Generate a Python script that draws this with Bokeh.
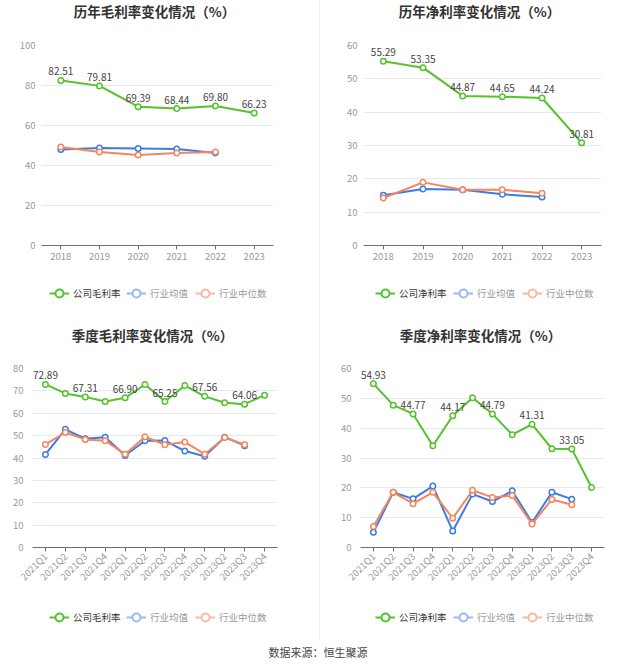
import math
from bokeh.plotting import figure
from bokeh.models import FactorRange, Range1d, Legend, LegendItem, ColumnDataSource, Div
from bokeh.layouts import row, column
from bokeh.embed import file_html
from bokeh.resources import INLINE
from bokeh.core.properties import value

# ---------------- data ----------------
years = ["2018", "2019", "2020", "2021", "2022", "2023"]
quarters = ["2021Q1", "2021Q2", "2021Q3", "2021Q4",
            "2022Q1", "2022Q2", "2022Q3", "2022Q4",
            "2023Q1", "2023Q2", "2023Q3", "2023Q4"]

annual_gross_company = [82.51, 79.81, 69.39, 68.44, 69.80, 66.23]
annual_gross_avg = [48.0, 48.8, 48.5, 48.2, 46.3]
annual_gross_median = [49.2, 46.8, 45.2, 46.2, 46.8]

annual_net_company = [55.29, 53.35, 44.87, 44.65, 44.24, 30.81]
annual_net_avg = [15.05, 16.95, 16.75, 15.35, 14.55]
annual_net_median = [14.25, 18.94, 16.75, 16.75, 15.65]

q_gross_company = [72.89, 68.85, 67.31, 65.27, 66.90, 72.85, 65.25, 72.40, 67.56, 64.70, 64.06, 68.10]
q_gross_avg = [41.6, 52.8, 48.6, 49.3, 41.1, 47.7, 47.8, 43.1, 40.8, 49.3, 45.5]
q_gross_median = [46.05, 51.4, 48.3, 47.7, 41.7, 49.5, 45.9, 47.1, 41.7, 49.2, 45.9]

q_net_company = [54.93, 47.7, 44.77, 34.1, 44.17, 50.2, 44.79, 37.8, 41.31, 33.1, 33.05, 20.1]
q_net_avg = [5.1, 18.5, 16.3, 20.6, 5.5, 17.9, 15.4, 19.0, 8.4, 18.5, 16.2]
q_net_median = [7.0, 18.5, 14.7, 18.5, 9.8, 19.2, 16.8, 17.4, 7.9, 16.1, 14.3]

titles = ["历年毛利率变化情况（%）", "历年净利率变化情况（%）",
          "季度毛利率变化情况（%）", "季度净利率变化情况（%）"]
company_names = ["公司毛利率", "公司净利率", "公司毛利率", "公司净利率"]
avg_name = "行业均值"
median_name = "行业中位数"
source_text = "数据来源：恒生聚源"

# ---------------- style ----------------
GREEN = "#55c22c"
BLUE = "#3d7be6"
ORANGE = "#f5855b"
BLUE_L = "#9db8f2"
ORANGE_L = "#f8b9a3"
CJK = "Noto Sans CJK SC"


def bare_fig(width, height, mbl, mbr):
    fw = width - mbl - mbr
    p = figure(width=width, height=height, x_range=Range1d(0, fw),
               y_range=Range1d(0, height), output_backend="svg",
               toolbar_location=None, x_axis_location=None, y_axis_location=None,
               min_border_left=mbl, min_border_right=mbr,
               min_border_top=0, min_border_bottom=0)
    p.outline_line_color = None
    p.grid.visible = False
    p.background_fill_color = "white"
    p.border_fill_color = "white"
    return p, fw


def header_fig(title, width, height, mbl, mbr, cx_abs, cy):
    p, fw = bare_fig(width, height, mbl, mbr)
    p.text(x=[cx_abs - mbl], y=[height - cy], text=[title], text_align="center",
           text_baseline="middle", text_font=value(CJK), text_font_size="13.5px",
           text_font_style="bold", text_color="#333333")
    return p


def legend_fig(cname, width, height, mbl, mbr, x1_abs, x2_abs, ybot):
    p, fw = bare_fig(width, height, mbl, mbr)

    def dummy(col):
        # legend-only renderer: points far outside the visible ranges
        s = ColumnDataSource(dict(x=[-1000, -999], y=[-1000, -1000]))
        a = p.line("x", "y", source=s, line_color=col, line_width=2)
        b = p.scatter("x", "y", source=s, marker="circle", fill_color="white",
                      line_color=col, line_width=2)
        return [a, b]

    common = dict(orientation="horizontal", padding=0, margin=0, spacing=7,
                  glyph_width=20, glyph_height=20, label_standoff=4,
                  label_text_font=CJK, label_text_font_size="9.5px",
                  border_line_color=None, background_fill_alpha=0)
    leg1 = Legend(items=[LegendItem(label=cname, renderers=dummy(GREEN))],
                  location=(x1_abs - mbl, ybot), label_text_color="#333333", **common)
    leg2 = Legend(items=[LegendItem(label=avg_name, renderers=dummy(BLUE_L)),
                         LegendItem(label=median_name, renderers=dummy(ORANGE_L))],
                  location=(x2_abs - mbl, ybot), label_text_color="#999999", **common)
    p.add_layout(leg1)
    p.add_layout(leg2)
    return p


def chart_fig(cats, company, avg, median, ymax, ystep, label_every,
              width, height, mbl, mbr, mbt, mbb, rotate, pad):
    p = figure(x_range=FactorRange(factors=cats, range_padding=pad,
                                   range_padding_units="absolute"),
               y_range=Range1d(0, ymax), width=width, height=height,
               output_backend="svg", toolbar_location=None,
               min_border_left=mbl, min_border_right=mbr,
               min_border_top=mbt, min_border_bottom=mbb)
    p.outline_line_color = None
    p.background_fill_color = "white"
    p.border_fill_color = "white"

    p.xgrid.grid_line_color = None
    p.ygrid.grid_line_color = "#e6e9f1"
    p.ygrid.grid_line_width = 1

    xa = p.xaxis[0]
    xa.axis_line_color = "#6e7079"
    xa.major_tick_line_color = "#6e7079"
    xa.major_tick_out = 4
    xa.major_tick_in = 0
    xa.minor_tick_line_color = None
    xa.major_label_text_color = "#999999"
    xa.major_label_text_font = CJK
    xa.major_label_text_font_size = "9.5px"
    xa.major_label_standoff = 3
    if rotate:
        xa.major_label_orientation = math.pi / 4

    ya = p.yaxis[0]
    ya.ticker = list(range(0, ymax + 1, ystep))
    ya.axis_line_color = None
    ya.major_tick_line_color = None
    ya.minor_tick_line_color = None
    ya.major_tick_out = 0
    ya.major_label_standoff = 6 + (3 if pad else 0)
    ya.major_label_text_color = "#999999"
    ya.major_label_text_font = CJK
    ya.major_label_text_font_size = "9.5px"

    for vals, col in [(company, GREEN), (avg, BLUE), (median, ORANGE)]:
        src = ColumnDataSource(dict(x=cats[:len(vals)], y=vals))
        p.line("x", "y", source=src, line_color=col, line_width=2)
        p.scatter("x", "y", source=src, marker="circle", size=5.5,
                  fill_color="white", line_color=col, line_width=1.5)

    idx = list(range(0, len(company), label_every))
    lsrc = ColumnDataSource(dict(x=[cats[i] for i in idx],
                                 y=[company[i] for i in idx],
                                 t=["%.2f" % company[i] for i in idx]))
    p.text("x", "y", text="t", source=lsrc, text_align="center",
           text_baseline="bottom", y_offset=-5,
           text_font=value(CJK), text_font_size="10px", text_color="#444444")
    return p


def panel(title, cname, cats, company, avg, median, ymax, ystep, label_every,
          width, mbl, mbr, head_h, title_cx, title_cy, chart_h, mbt, mbb, rotate,
          pad, leg_h, leg_x1, leg_x2, leg_ybot):
    h = header_fig(title, width, head_h, mbl, mbr, title_cx, title_cy)
    c = chart_fig(cats, company, avg, median, ymax, ystep, label_every,
                  width, chart_h, mbl, mbr, mbt, mbb, rotate, pad)
    lg = legend_fig(cname, width, leg_h, mbl, mbr, leg_x1, leg_x2, leg_ybot)
    return column(h, c, lg)


LW, RW = 320, 316
# top row: header 22, chart 248 (frame 45..245), legend 40
p1 = panel(titles[0], company_names[0], years, annual_gross_company, annual_gross_avg,
           annual_gross_median, 100, 20, 1, LW, 41, 47, 22, 154, 10, 248, 23, 25, False,
           0, 40, 49, 126, 7)
p2 = panel(titles[1], company_names[1], years, annual_net_company, annual_net_avg,
           annual_net_median, 60, 10, 1, RW, 43, 35, 22, 159, 10, 248, 23, 25, False,
           0, 40, 55, 133, 7)
# bottom row: header 36, chart 246 (frame 368..547), legend 48
# frames widened by 3px per side (absolute padding) so edge labels are not clipped
p3 = panel(titles[2], company_names[2], quarters, q_gross_company, q_gross_avg,
           q_gross_median, 80, 10, 2, LW, 32, 43, 36, 152, 24, 246, 22, 45, True,
           0.15, 48, 49, 126, 13)
p4 = panel(titles[3], company_names[3], quarters, q_net_company, q_net_avg,
           q_net_median, 60, 10, 2, RW, 40, 32, 36, 160, 24, 246, 22, 45, True,
           0.15, 48, 55, 133, 13)

p2.styles = {"box-shadow": "-1px 0 0 0 #eeeeee"}
p4.styles = {"box-shadow": "-1px 0 0 0 #eeeeee"}

footer = Div(text=source_text, width=LW + RW, height=24, margin=0,
             styles={"text-align": "center", "font-size": "11px", "color": "#444444",
                     "line-height": "24px", "font-family": CJK})

layout = column(row(p1, p2), row(p3, p4), footer)

open("out.html", "w").write(file_html(layout, INLINE, title="chart"))
